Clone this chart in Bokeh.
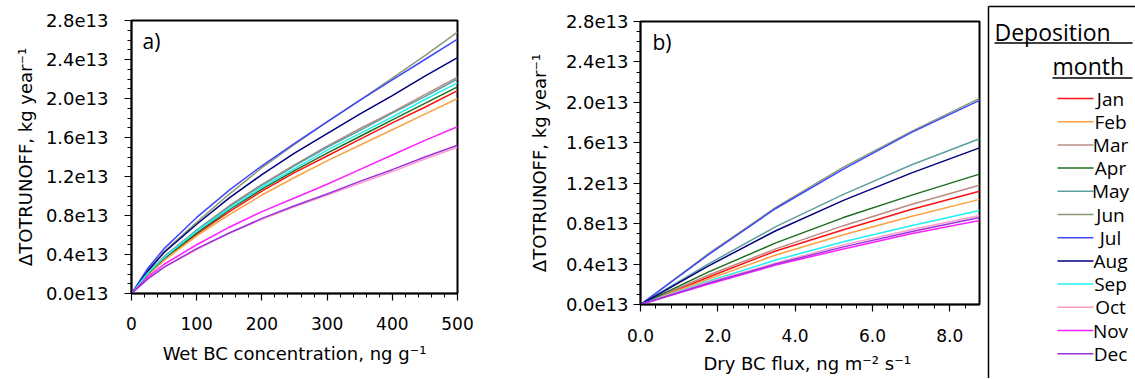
from bokeh.plotting import figure
from bokeh.layouts import row
from bokeh.models import Range1d, FixedTicker, PrintfTickFormatter, Label
from bokeh.embed import file_html
from bokeh.resources import INLINE
from bokeh.core.properties import value

months = ["Jan", "Feb", "Mar", "Apr", "May", "Jun", "Jul", "Aug", "Sep", "Oct", "Nov", "Dec"]
colors = ["#ff1010", "#ffa040", "#bc8a84", "#1e6e1e", "#5f9ea0", "#8c9a74",
          "#4048ff", "#000080", "#20f0f0", "#ff9cc8", "#ff20ff", "#9a32e0"]

# Panel a: wet BC concentration (ng g-1) vs dTOTRUNOFF (1e13 kg/yr)
wet_x = [0, 25, 50, 100, 150, 200, 250, 300, 350, 400, 450, 500]
wet = {
    "Jan": [0, 0.20, 0.36, 0.61, 0.84, 1.05, 1.24, 1.41, 1.58, 1.75, 1.91, 2.08],
    "Feb": [0, 0.19, 0.34, 0.59, 0.81, 1.01, 1.19, 1.36, 1.52, 1.68, 1.84, 2.00],
    "Mar": [0, 0.21, 0.38, 0.65, 0.90, 1.12, 1.32, 1.51, 1.69, 1.86, 2.04, 2.22],
    "Apr": [0, 0.20, 0.36, 0.62, 0.86, 1.07, 1.26, 1.44, 1.61, 1.78, 1.95, 2.12],
    "May": [0, 0.21, 0.37, 0.65, 0.89, 1.11, 1.31, 1.50, 1.67, 1.85, 2.02, 2.20],
    "Jun": [0, 0.24, 0.43, 0.73, 1.02, 1.29, 1.53, 1.76, 1.98, 2.21, 2.44, 2.68],
    "Jul": [0, 0.26, 0.46, 0.78, 1.06, 1.31, 1.54, 1.76, 1.98, 2.19, 2.40, 2.61],
    "Aug": [0, 0.23, 0.42, 0.71, 0.98, 1.22, 1.44, 1.64, 1.84, 2.03, 2.23, 2.42],
    "Sep": [0, 0.21, 0.37, 0.64, 0.87, 1.09, 1.28, 1.47, 1.64, 1.81, 1.99, 2.16],
    "Oct": [0, 0.15, 0.27, 0.45, 0.62, 0.76, 0.89, 1.01, 1.13, 1.25, 1.38, 1.50],
    "Nov": [0, 0.17, 0.30, 0.50, 0.68, 0.84, 0.98, 1.12, 1.27, 1.42, 1.57, 1.71],
    "Dec": [0, 0.15, 0.27, 0.46, 0.62, 0.77, 0.90, 1.02, 1.15, 1.27, 1.40, 1.52],
}

# Panel b: dry BC flux (ng m-2 s-1) vs dTOTRUNOFF (1e13 kg/yr)
dry_x = [0, 1.75, 3.5, 5.25, 7.0, 8.77]
dry = {
    "Jan": [0, 0.27, 0.53, 0.74, 0.94, 1.12],
    "Feb": [0, 0.25, 0.49, 0.69, 0.87, 1.04],
    "Mar": [0, 0.29, 0.55, 0.78, 0.99, 1.18],
    "Apr": [0, 0.32, 0.61, 0.86, 1.08, 1.29],
    "May": [0, 0.40, 0.77, 1.09, 1.38, 1.64],
    "Jun": [0, 0.50, 0.96, 1.36, 1.71, 2.04],
    "Jul": [0, 0.49, 0.95, 1.34, 1.70, 2.02],
    "Aug": [0, 0.38, 0.73, 1.03, 1.30, 1.55],
    "Sep": [0, 0.23, 0.44, 0.62, 0.78, 0.93],
    "Oct": [0, 0.22, 0.41, 0.59, 0.74, 0.88],
    "Nov": [0, 0.20, 0.39, 0.55, 0.70, 0.83],
    "Dec": [0, 0.21, 0.40, 0.57, 0.72, 0.86],
}

y_ticks = [0.0, 0.4, 0.8, 1.2, 1.6, 2.0, 2.4, 2.8]
wet_ticks = [0, 100, 200, 300, 400, 500]
dry_ticks = [0.0, 2.0, 4.0, 6.0, 8.0]

y_label = "ΔTOTRUNOFF, kg year⁻¹"
wet_label = "Wet BC concentration, ng g⁻¹"
dry_label = "Dry BC flux, ng m⁻²  s⁻¹"

TICK_FONT = "DejaVu Sans"
H = 378


def style(p, xticks, xminor, xfmt, xlabel, ytick_standoff, ylab_standoff,
          xtick_standoff, xlab_standoff):
    p.grid.visible = False
    p.outline_line_color = "black"
    p.outline_line_width = 2
    p.yaxis.ticker = FixedTicker(ticks=y_ticks,
                                 minor_ticks=[round(i * 0.1, 1) for i in range(29)])
    p.yaxis.formatter = PrintfTickFormatter(format="%.1fe13")
    p.xaxis.ticker = FixedTicker(ticks=xticks, minor_ticks=xminor)
    p.xaxis.formatter = xfmt
    p.yaxis.axis_label = y_label
    p.xaxis.axis_label = xlabel
    for ax in (p.xaxis[0], p.yaxis[0]):
        ax.axis_line_width = 1.5
        ax.axis_line_color = "black"
        ax.major_tick_in = 0
        ax.major_tick_out = 7
        ax.minor_tick_in = 0
        ax.minor_tick_out = 4
        ax.major_tick_line_width = 1.2
        ax.minor_tick_line_width = 1
        ax.major_tick_line_color = "black"
        ax.minor_tick_line_color = "black"
        ax.major_label_text_font = TICK_FONT
        ax.major_label_text_color = "black"
        ax.axis_label_text_font = TICK_FONT
        ax.axis_label_text_font_style = "normal"
        ax.axis_label_text_font_size = "18px"
        ax.axis_label_text_color = "black"
    p.yaxis.major_label_text_font_size = "18px"
    p.xaxis.major_label_text_font_size = "17px"
    p.yaxis.major_label_standoff = ytick_standoff
    p.yaxis.axis_label_standoff = ylab_standoff
    p.xaxis.major_label_standoff = xtick_standoff
    p.xaxis.axis_label_standoff = xlab_standoff


# ---- panel a ----
pa = figure(width=500, height=H, x_range=Range1d(0, 500), y_range=Range1d(0, 2.8),
            output_backend="svg", toolbar_location=None, frame_align=False,
            min_border_left=131, min_border_right=43, min_border_top=20,
            min_border_bottom=H - 293)
for m, c in zip(months, colors):
    pa.line(wet_x, wet[m], line_color=c, line_width=1.5)
style(pa, wet_ticks, [v for v in range(0, 501, 20)], PrintfTickFormatter(format="%d"),
      wet_label, 16, 7, 16, 10)
pa.add_layout(Label(x=17, y=2.73, text="a)", text_font="Open Sans",
                    text_font_size="21px", text_baseline="top", text_color="black"))

# ---- panel b ----
pb = figure(width=485, height=H, x_range=Range1d(0, 8.77), y_range=Range1d(0, 2.8),
            output_backend="svg", toolbar_location=None, frame_align=False,
            min_border_left=140, min_border_right=6, min_border_top=21,
            min_border_bottom=H - 304)
for m, c in zip(months, colors):
    pb.line(dry_x, dry[m], line_color=c, line_width=1.5)
style(pb, dry_ticks, [round(i * 0.4, 1) for i in range(22)], PrintfTickFormatter(format="%.1f"),
      dry_label, 5, 13, 17, 8)
pb.add_layout(Label(x=0.31, y=2.74, text="b)", text_font="Open Sans",
                    text_font_size="21px", text_baseline="top", text_color="black"))

# ---- legend panel ----
pl = figure(width=150, height=H, x_range=Range1d(0, 150), y_range=Range1d(H, 0),
            output_backend="svg", toolbar_location=None, min_border=0, frame_align=False,
            x_axis_location=None, y_axis_location=None)
pl.grid.visible = False
pl.outline_line_color = None
pl.segment(x0=[3, 3], y0=[6, 6], x1=[3, 150], y1=[H, 6], line_color="black", line_width=1.5)
pl.text(x=[9, 67], y=[31, 65], text=["Deposition ", "month"], text_font=value("Open Sans"),
        text_font_size="23px", text_baseline="middle", text_color="black")
pl.segment(x0=[9, 67], y0=[42.5, 77.5], x1=[147, 147], y1=[42.5, 77.5],
           line_color="black", line_width=1.5)
leg_y = [98 + 23.2 * i for i in range(len(months))]
pl.segment(x0=[72] * len(months), y0=leg_y, x1=[108] * len(months), y1=leg_y,
           line_color=colors, line_width=1.5)
pl.text(x=[125] * len(months), y=leg_y, text=months, text_font=value("Open Sans"),
        text_font_size="19px", text_align="center", text_baseline="middle", text_color="black")

layout = row(pa, pb, pl)
open("out.html", "w").write(file_html(layout, INLINE))
